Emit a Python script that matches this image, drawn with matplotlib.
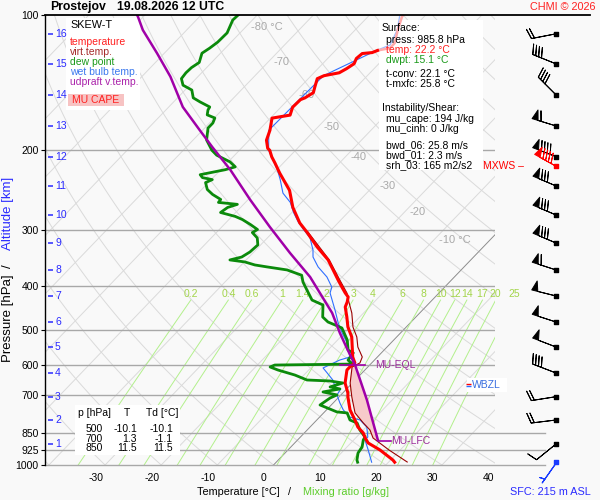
import numpy as np
import matplotlib
matplotlib.use('Agg')
import matplotlib.pyplot as plt
from matplotlib.transforms import Affine2D, blended_transform_factory
from matplotlib.patches import Rectangle
from matplotlib.ticker import NullLocator

plt.rcParams['font.family'] = ['Liberation Sans', 'DejaVu Sans']
plt.rcParams['font.size'] = 7.5

# ---------------- data ----------------
# environmental temperature [hPa], [degC]
red_p = [985.8, 974.7, 926.1, 893.6, 870.9, 848.9, 823.2, 794.3, 754.5, 706.2,
         691.6, 657.3, 615.0, 605.6, 593.1, 575.4, 546.7, 519.4, 493.5, 468.9,
         445.5, 434.3, 423.2, 414.7, 402.4, 388.0, 368.6, 350.2, 327.6, 303.5,
         289.8, 267.6, 245.3, 224.6, 213.2, 206.7, 199.8, 197.8, 189.8, 180.3,
         169.5, 166.9, 160.3, 154.2, 152.8, 148.8, 144.6, 138.5, 136.4, 134.4,
         131.6, 128.3, 124.9, 121.8, 121.2, 119.9, 118.5, 115.5, 108.0, 101.0, 100.0]
red_T = [21.1, 20.4, 16.4, 13.1, 11.7, 10.5, 8.5, 6.8, 4.2, 1.6,
         0.9, -1.3, -3.2, -3.2, -3.0, -4.4, -6.2, -8.0, -10.4, -12.3,
         -14.3, -14.8, -15.5, -16.7, -18.3, -20.2, -22.8, -25.4, -29.6, -34.0,
         -36.8, -40.7, -44.2, -48.9, -51.5, -53.1, -54.6, -55.3, -56.9, -58.0,
         -59.7, -57.0, -57.9, -57.8, -57.3, -56.7, -57.4, -58.4, -57.7, -55.5,
         -54.9, -54.4, -54.9, -54.7, -53.1, -52.5, -50.7, -50.7, -52.4, -53.9, -54.0]

# virtual temperature
virt_p = [984.8, 926.1, 870.9, 836.3, 806.6, 766.1, 706.2, 657.3, 605.6, 593.1,
          575.4, 546.7, 519.4, 493.5, 459.4, 434.3, 414.7, 388.0, 350.2, 303.5]
virt_T = [23.3, 18.0, 13.1, 11.2, 8.8, 5.6, 2.3, -0.4, -2.8, -2.1,
          -2.7, -5.2, -7.1, -9.5, -12.1, -14.5, -16.4, -19.9, -25.2, -33.8]

# dew point
dew_p = [985.8, 974.7, 940.4, 912.1, 879.8, 866.5, 836.3, 806.6, 794.3, 766.1,
         762.2, 746.8, 735.6, 709.8, 698.7, 688.1, 677.6, 670.7, 657.3, 650.6,
         647.3, 631.1, 615.0, 605.6, 599.6, 596.6, 584.6, 563.5, 555.4, 527.3,
         496.0, 488.6, 481.1, 468.9, 441.0, 430.0, 408.7, 392.1, 378.7, 368.6,
         362.9, 359.3, 353.8, 350.2, 345.0, 336.2, 324.3, 312.9, 304.4, 299.7,
         292.2, 284.8, 280.3, 274.7, 267.7, 263.5, 260.9, 257.0, 250.5, 244.2,
         235.7, 232.2, 229.8, 226.4, 220.7, 217.5, 212.0, 204.9, 199.8, 189.6,
         178.3, 173.8, 169.4, 166.7, 162.6, 160.1, 156.0, 152.8, 146.8, 143.2,
         138.5, 134.4, 130.9, 127.5, 121.6, 118.5, 114.9, 109.6, 102.6, 100.0]
dew_T = [14.5, 14.0, 13.0, 12.7, 11.7, 11.5, 9.4, 7.7, 5.9, 4.2,
         2.2, -0.2, -2.0, -1.4, -0.7, -3.7, -1.2, -3.3, -1.7, -4.3,
         -8.6, -11.6, -15.5, -17.4, -16.9, -3.2, -4.7, -5.0, -6.4, -8.3,
         -11.3, -13.0, -14.8, -16.6, -18.6, -21.4, -24.0, -26.1, -27.5, -31.0,
         -35.1, -37.6, -39.9, -42.9, -41.3, -40.7, -40.5, -41.8, -43.6, -43.2,
         -45.3, -47.6, -49.4, -52.7, -52.3, -51.1, -54.8, -54.9, -57.2, -59.0,
         -60.5, -59.8, -61.9, -62.8, -59.2, -57.9, -59.7, -63.2, -64.9, -67.6,
         -69.4, -69.4, -69.9, -71.8, -72.5, -72.7, -75.3, -77.2, -78.8, -81.2,
         -82.6, -82.8, -82.7, -82.2, -83.3, -82.8, -82.4, -82.3, -83.5, -83.4]

# wet bulb temperature
wb_p = [985.8, 926.1, 879.8, 866.5, 823.2, 794.3, 782.6, 754.5, 728.1, 698.7,
        681.0, 670.7, 647.3, 624.5, 608.6, 584.6, 575.4, 535.6, 508.9, 483.6,
        452.5, 414.7, 402.4, 382.1, 362.9, 345.0, 332.9, 312.9, 299.7, 288.0,
        274.7, 260.9, 248.8, 232.2, 220.7, 199.8, 180.3, 154.2, 136.4, 119.9,
        116.6, 108.0, 100.0]
wb_T = [17.0, 14.3, 12.0, 12.0, 10.1, 7.7, 5.4, 3.0, 1.2, -0.7,
        -1.0, -2.4, -4.0, -6.2, -7.8, -6.2, -4.9, -7.8, -10.4, -12.8,
        -15.6, -19.4, -20.1, -22.7, -26.0, -28.6, -29.8, -32.4, -35.0, -37.3,
        -39.7, -42.0, -44.9, -47.7, -49.9, -54.8, -58.2, -58.0, -57.8, -52.7,
        -51.2, -52.5, -54.6]

# MU parcel (updraft virtual temperature)
par_p = [879.8, 717.0, 599.6, 549.5, 508.9, 459.4, 382.1, 337.9, 296.0, 257.4,
         220.7, 196.8, 180.3, 160.1, 137.1, 121.6, 108.0, 101.0, 100.0]
par_T = [14.3, 5.5, -2.6, -7.0, -10.8, -15.6, -25.7, -33.4, -41.4, -49.6,
         -58.3, -65.3, -70.5, -77.5, -84.9, -91.3, -97.8, -100.9, -101.4]

eql_p, eql_T = 599.6, -2.6
lfc_p, lfc_T = 884.4, 14.5
wbzl_p = 664.0

# altitude (km) levels and winds
km_lab = [1, 2, 3, 4, 5, 6, 7, 8, 9, 10, 11, 12, 13, 14, 15, 16]
km_p = [898.1, 794.3, 705.0, 624.5, 546.7, 481.1, 421.1, 368.6, 321.1, 278.2,
        239.8, 206.4, 176.4, 150.5, 128.4, 110.1]
wdir = [231, 263, 261, 291, 291, 288, 284, 288, 293, 293, 293, 291, 287, 315, 292, 259]
wspd = [5, 10, 10, 20, 25, 25, 25, 30, 40, 40, 40, 45, 30, 20, 20, 10]
mxws_p, mxws_dir, mxws_spd = 216.5, 299, 45
sfc_p, sfc_dir, sfc_spd = 985.8, 215, 2.5

p_ticks = [100, 200, 300, 400, 500, 600, 700, 850, 925, 1000]
t_ticks = [-30, -20, -10, 0, 10, 20, 30, 40]
mix_w = [0.2, 0.4, 0.6, 1, 1.4, 2, 3, 4, 6, 8, 10, 12, 14, 17, 20, 25]
mix_lab = ['0.2', '0.4', '0.6', '1', '1.4', '2', '3', '4', '6', '8', '10', '12', '14', '17', '20', '25']
iso_lab_T = [-80, -70, -60, -50, -40, -30, -20, -10]
iso_lab_p = [106.3, 127.1, 150.5, 177.3, 206.7, 239.6, 274.7, 316.2]

# ---------------- figure ----------------
W, H = 600, 500
BG = '#f9f9f9'
fig = plt.figure(figsize=(6, 5), dpi=100, facecolor=BG)
ax = fig.add_axes([45 / W, 35 / H, 450 / W, 450 / H])
ax.set_facecolor(BG)
ax.set_yscale('log')
ax.set_ylim(1000, 100)
ax.set_xlim(-40.70, 39.45)
SKEW = 0.962
skew = ax.transData + ax.transAxes.inverted() + Affine2D().skew(np.arctan(SKEW), 0) + ax.transAxes
bt = blended_transform_factory(ax.transAxes, ax.transData)


def fx(px):
    return px / W


def fy(py):
    return 1 - py / H


RED = '#ff0000'
DRED = '#9a0000'
GRN = '#0b8a0b'
BLU = '#2f6fff'
PUR = '#a000a8'

# grid: isotherms, dry adiabats
pp = np.geomspace(1000, 100, 120)
for t in range(-170, 60, 10):
    ax.plot([t, t], [1000, 100], color='#dadada', lw=0.7, transform=skew, zorder=1)
ax.plot([0, 0], [1000, 100], color='#8a8a8a', lw=0.6, transform=skew, zorder=1.1)
for th in range(-40, 200, 10):
    Tad = (th + 273.15) * (pp / 1000.0) ** 0.2857 - 273.15
    ax.plot(Tad, pp, color='#dadada', lw=0.7, transform=skew, zorder=1)

# mixing ratio lines
pm = np.geomspace(1000, 430, 40)
for w, lab in zip(mix_w, mix_lab):
    e = w * pm / (622.0 + w)
    lg = np.log(e / 6.112)
    Td = 243.5 * lg / (17.67 - lg)
    ax.plot(Td, pm, color='#b3f08c', lw=0.7, transform=skew, zorder=1.2)
    ax.annotate(lab, xy=(Td[-1], pm[-1]), xycoords=skew, xytext=(0, 4.2),
                textcoords='offset points', ha='center', va='center',
                color='#a3d54a', fontsize=7.5, annotation_clip=False)

# pressure lines
for p in [200, 300, 400, 500, 600, 700]:
    ax.axhline(p, color='#a8a8a8', lw=1.0, zorder=1.3)
for p in [850, 925, 1000]:
    ax.axhline(p, xmin=0, xmax=(545 - 45) / 450, color='#a8a8a8', lw=1.0, zorder=1.3, clip_on=False)
ax.axhline(100, xmin=0, xmax=(590 - 45) / 450, color='k', lw=1.3, zorder=6, clip_on=False)

# white boxes
def box(x0, y0, x1, y1, fc='white', z=1.5):
    ax.add_patch(Rectangle((fx(x0), fy(y1)), (x1 - x0) / W, (y1 - y0) / H,
                           transform=fig.transFigure, facecolor=fc, edgecolor='none',
                           zorder=z, clip_on=False))

box(66, 18, 140, 110)
box(379, 20, 483, 170)
box(75, 405, 180, 455)
box(467, 378, 507, 392)
box(68, 94, 124, 106, fc='#f7c3c3', z=1.6)

# isotherm labels
for T, p in zip(iso_lab_T, iso_lab_p):
    s = '%d °C' % T if T in (-80, -10) else '%d' % T
    ax.text(T + 1.0, p, s, transform=skew, color='#a9a9a9', fontsize=8, ha='left', va='center', zorder=1.4)

# CAPE area
pa, ta = np.array(par_p), np.array(par_T)
va_, vt = np.array(virt_p), np.array(virt_T)
m1 = (pa <= 880) & (pa >= 599)
m2 = (va_ <= 871) & (va_ >= 605)
cape_T = np.concatenate([ta[m1], vt[m2][::-1]])
cape_p = np.concatenate([pa[m1], va_[m2][::-1]])
ax.fill(cape_T, cape_p, transform=skew, facecolor='#f7caca', edgecolor='none', zorder=2)

# profiles
rp, rt = np.array(red_p), np.array(red_T)
wp, wt = np.array(wb_p), np.array(wb_T)
mw = wp >= 119.9
ax.plot(wt[mw], wp[mw], color=BLU, lw=0.8, transform=skew, zorder=3)
ax.plot(wt[wp <= 119.9], wp[wp <= 119.9], color='#9dbcff', lw=0.9, transform=skew, zorder=3)
ax.plot(virt_T, virt_p, color=DRED, lw=0.8, transform=skew, zorder=3.2)
ax.plot(dew_T, dew_p, color=GRN, lw=2.0, transform=skew, zorder=3.4)
mr = rp >= 119.9
ax.plot(rt[mr], rp[mr], color=RED, lw=2.2, transform=skew, zorder=3.6)
ax.plot(rt[rp <= 119.9], rp[rp <= 119.9], color='#ffaaaa', lw=1.8, transform=skew, zorder=3.5)
ax.plot(par_T, par_p, color=PUR, lw=1.8, transform=skew, zorder=3.8)

# EQL / LFC markers
ax.plot([eql_T - 2.7, eql_T + 1.8], [eql_p, eql_p], color=PUR, lw=1.2, transform=skew, zorder=3.9)
ax.annotate('MU-EQL', xy=(eql_T, eql_p), xycoords=skew, xytext=(14.5, 0), textcoords='offset points',
            color='#9b2d9b', fontsize=7.5, va='center', ha='left', annotation_clip=False)
ax.plot([lfc_T, lfc_T + 2.3], [lfc_p, lfc_p], color=PUR, lw=1.2, transform=skew, zorder=3.9)
ax.annotate('MU-LFC', xy=(lfc_T, lfc_p), xycoords=skew, xytext=(9.5, 0), textcoords='offset points',
            color='#9b2d9b', fontsize=7.5, va='center', ha='left', annotation_clip=False)

# WBZL
ax.hlines([wbzl_p * 0.997], (466 - 45) / 450, (471 - 45) / 450, transform=bt, colors=RED, lw=1, clip_on=False, zorder=5)
ax.hlines([wbzl_p * 1.004], (466 - 45) / 450, (471 - 45) / 450, transform=bt, colors=BLU, lw=1, clip_on=False, zorder=5)
ax.text((472 - 45) / 450, wbzl_p, 'WBZL', transform=bt, color='#3a6fe0', fontsize=7.5, va='center', ha='left', zorder=5)

# altitude ticks and labels
ax.hlines(km_p, (48 - 45) / 450, (53 - 45) / 450, transform=bt, colors='#2a2aff', lw=1.1, zorder=5)
for k, p in zip(km_lab, km_p):
    ax.text((55 - 45) / 450, p, str(k), transform=bt, color='#2a2aff', fontsize=7.5, va='center', ha='left', zorder=5)

# axes styling
for sp in ['top', 'right', 'bottom']:
    ax.spines[sp].set_visible(False)
ax.spines['left'].set_linewidth(1.0)
ax.set_yticks(p_ticks)
ax.set_yticklabels([str(p) for p in p_ticks])
ax.yaxis.set_minor_locator(NullLocator())
ax.tick_params(axis='y', length=3, width=0.8, pad=1.5, labelsize=7.5)
ax.set_xticks([])

for T in t_ticks:
    ax.annotate(str(T), xy=(T, 1052), xycoords=skew, xytext=(0, -2), textcoords='offset points',
                ha='center', va='center', fontsize=7.5, annotation_clip=False)

# wind barbs
XB = (556 - 45) / 450.0
inc = dict(half=2.5, full=5, flag=25)


def uv(d, s):
    r = np.deg2rad(np.asarray(d, float))
    s = np.asarray(s, float)
    return -s * np.sin(r), -s * np.cos(r)


u, v = uv(wdir, wspd)
ax.barbs(np.full(len(km_p), XB), km_p, u, v, transform=bt, length=6, barb_increments=inc,
         linewidth=0.7, color='k', clip_on=False, zorder=5)
u2, v2 = uv([mxws_dir], [mxws_spd])
ax.barbs([XB], [mxws_p], u2, v2, transform=bt, length=6, barb_increments=inc,
         linewidth=0.7, color=RED, clip_on=False, zorder=5)
u3, v3 = uv([sfc_dir], [sfc_spd])
ax.barbs([XB], [sfc_p], u3, v3, transform=bt, length=6, barb_increments=inc,
         linewidth=0.8, color='#1a3cff', clip_on=False, zorder=5)
ax.scatter(np.full(len(km_p), XB), km_p, marker='s', s=5, color='k', transform=bt, clip_on=False, zorder=6)
ax.scatter([XB], [mxws_p], marker='s', s=5, color=RED, transform=bt, clip_on=False, zorder=6)
ax.scatter([XB], [sfc_p], marker='s', s=5, color='#1a3cff', transform=bt, clip_on=False, zorder=6)
ax.text((483 - 45) / 450, mxws_p, 'MXWS \u2013', transform=bt, color=RED, fontsize=7.5, va='center', ha='left', zorder=5)

# ---------------- texts ----------------
fig.text(fx(50), fy(7), 'Prostejov', fontsize=8.8, fontweight='bold', va='center', ha='left')
fig.text(fx(117), fy(7), '19.08.2026 12 UTC', fontsize=8.8, fontweight='bold', va='center', ha='left')
fig.text(fx(596), fy(7), 'CHMI © 2026', fontsize=7.8, color='#ff2020', va='center', ha='right')

fig.text(fx(70), fy(25), 'SKEW-T', fontsize=7.8, va='center', ha='left')
leg = [('temperature', '#ff2020'), ('virt.temp.', '#a52a2a'), ('dew point', '#1a991a'),
       ('wet bulb temp.', '#3a78ee'), ('udpraft v.temp.', '#aa22aa')]
for i, (s, c) in enumerate(leg):
    fig.text(fx(70), fy(42 + 10 * i), s, color=c, fontsize=7.5, va='center', ha='left')
fig.text(fx(96), fy(100), 'MU CAPE', color='#ff2020', fontsize=7.5, va='center', ha='center')

info = [('Surface:', 382, 28, 'k'), ('press: 985.8 hPa', 386, 40, 'k'),
        ('temp: 22.2 °C', 386, 50, '#ff2020'), ('dwpt: 15.1 °C', 386, 60, '#1a991a'),
        ('t-conv: 22.1 °C', 386, 74, 'k'), ('t-mxfc: 25.8 °C', 386, 84, 'k'),
        ('Instability/Shear:', 382, 108, 'k'), ('mu_cape: 194 J/kg', 386, 119, 'k'),
        ('mu_cinh: 0 J/kg', 386, 129, 'k'), ('bwd_06: 25.8 m/s', 386, 145, 'k'),
        ('bwd_01: 2.3 m/s', 386, 155, 'k'), ('srh_03: 165 m2/s2', 386, 165, 'k')]
for s, x, y, c in info:
    fig.text(fx(x), fy(y), s, color=c, fontsize=7.5, va='center', ha='left')

# level table
fig.text(fx(78), fy(413), 'p [hPa]', fontsize=7.5, va='center', ha='left')
fig.text(fx(127), fy(413), 'T', fontsize=7.5, va='center', ha='center')
fig.text(fx(146), fy(413), 'Td [°C]', fontsize=7.5, va='center', ha='left')
tab = [('500', '-10.1', '-10.1', 429), ('700', '1.3', '-1.1', 438.5), ('850', '11.5', '11.5', 448.3)]
for p, t, td, y in tab:
    fig.text(fx(94), fy(y), p, fontsize=7.5, va='center', ha='center')
    fig.text(fx(137), fy(y), t, fontsize=7.5, va='center', ha='right')
    fig.text(fx(173), fy(y), td, fontsize=7.5, va='center', ha='right')

# axis titles
fig.text(fx(197), fy(492), 'Temperature [°C]', fontsize=7.8, va='center', ha='left')
fig.text(fx(289), fy(492), '/', fontsize=7.8, va='center', ha='center')
fig.text(fx(303), fy(492), 'Mixing ratio [g/kg]', fontsize=7.8, color='#5ccc2a', va='center', ha='left')
fig.text(fx(8), fy(318), 'Pressure [hPa]', fontsize=9.5, rotation=90, va='center', ha='center')
fig.text(fx(8), fy(266), '/', fontsize=9.5, rotation=90, va='center', ha='center')
fig.text(fx(8), fy(213), 'Altitude [km]', fontsize=9.5, rotation=90, color='#2a2aff', va='center', ha='center')
fig.text(fx(550), fy(492), 'SFC: 215 m ASL', fontsize=7.8, color='#2a2aff', va='center', ha='center')

fig.savefig('out.png', dpi=100, facecolor=BG)
